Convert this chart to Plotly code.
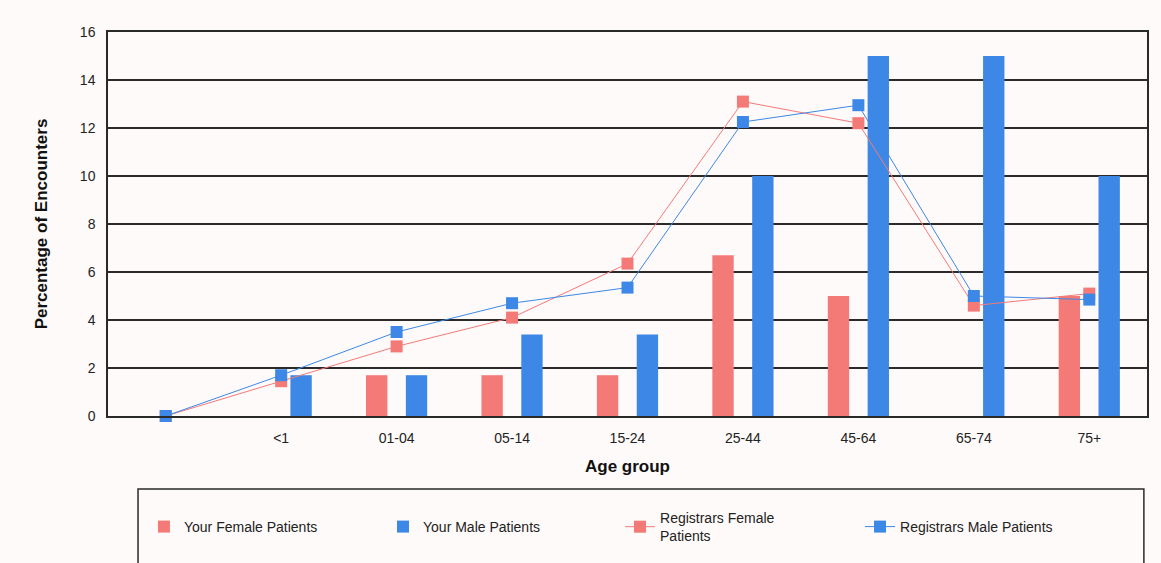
import plotly.graph_objects as go

categories = [" ", "<1", "01-04", "05-14", "15-24", "25-44", "45-64", "65-74", "75+"]
your_female = [0, 0, 1.7, 1.7, 1.7, 6.7, 5.0, 0, 5.0]
your_male = [0, 1.7, 1.7, 3.4, 3.4, 10.0, 15.0, 15.0, 10.0]
reg_female = [0, 1.45, 2.9, 4.1, 6.35, 13.1, 12.2, 4.6, 5.1]
reg_male = [0, 1.7, 3.5, 4.7, 5.35, 12.25, 12.95, 5.0, 4.85]

RED = "#F47A78"
BLUE = "#3D88E6"
DARK = "#2a2a2a"
BG = "#FEFAF9"
FONT = "Liberation Sans, Arial, sans-serif"

fig = go.Figure()
fig.add_trace(go.Bar(x=categories, y=your_female, name="Your Female Patients", legend="legend",
                     marker=dict(color=RED, line=dict(width=0)), width=0.185, offset=-0.265))
fig.add_trace(go.Bar(x=categories, y=your_male, name="Your Male Patients", legend="legend2",
                     marker=dict(color=BLUE, line=dict(width=0)), width=0.185, offset=0.08))
fig.add_trace(go.Scatter(x=categories, y=reg_female, name="Registrars Female<br>Patients", legend="legend3",
                         mode="lines+markers", line=dict(color=RED, width=1), cliponaxis=False,
                         marker=dict(symbol="square", size=12, color=RED)))
fig.add_trace(go.Scatter(x=categories, y=reg_male, name="Registrars Male Patients", legend="legend4",
                         mode="lines+markers", line=dict(color=BLUE, width=1), cliponaxis=False,
                         marker=dict(symbol="square", size=12, color=BLUE)))

LEG_Y = -0.2857
def leg(x):
    return dict(orientation="h", x=x, xanchor="left", y=LEG_Y, yanchor="middle",
                font=dict(family=FONT, size=14, color="#222"), bgcolor="rgba(0,0,0,0)")

fig.update_layout(
    width=1161, height=563,
    margin=dict(l=108, r=14, t=32, b=146),
    paper_bgcolor=BG, plot_bgcolor=BG,
    barmode="overlay",
    font=dict(family=FONT, size=14, color="#222"),
    showlegend=True,
    legend=leg(0.0346), legend2=leg(0.2647), legend3=leg(0.4928), legend4=leg(0.7238),
    shapes=[dict(type="rect", xref="paper", yref="paper", x0=0.0289, x1=0.997,
                 y0=-0.42, y1=-0.19, line=dict(color=DARK, width=1.5), layer="below")],
    xaxis=dict(type="category", categoryorder="array", categoryarray=categories, automargin=False,
               showgrid=False, showline=True, linecolor=DARK, linewidth=1.5, mirror=True,
               ticks="", ticklabelstandoff=8, tickfont=dict(size=14, color="#222"),
               title=dict(text="<b>Age group</b>", font=dict(size=17, color="#111"), standoff=16),
               range=[-0.5, 8.5]),
    yaxis=dict(range=[0, 16], dtick=2, showgrid=True, gridcolor=DARK, gridwidth=1.5, automargin=False,
               showline=True, linecolor=DARK, linewidth=1.5, mirror=True, zeroline=False,
               ticks="", ticklabelstandoff=8, tickfont=dict(size=14, color="#222"),
               title=dict(text="<b>Percentage of Encounters</b>", font=dict(size=17, color="#111"), standoff=28)),
)

fig.write_html("out.html")
